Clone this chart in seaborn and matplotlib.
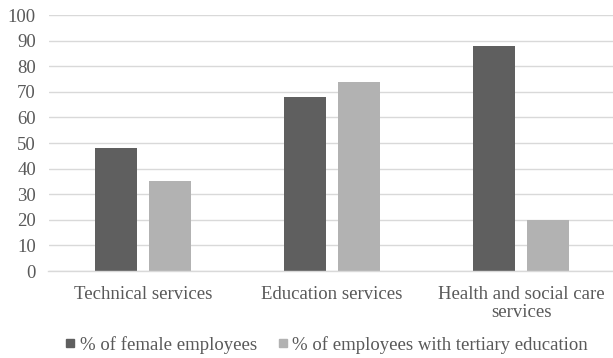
import matplotlib
matplotlib.use("Agg")
import matplotlib.pyplot as plt
import seaborn as sns
import pandas as pd
from matplotlib.lines import Line2D

categories = ["Technical services", "Education services", "Health and social care\nservices"]
series_names = ["% of female employees", "% of employees with tertiary education"]
female = [48, 68, 88]
tertiary = [35, 74, 20]
yticks = [0, 10, 20, 30, 40, 50, 60, 70, 80, 90, 100]

colors = ["#5f5f5f", "#b2b2b2"]

df = pd.DataFrame({
    "category": categories * 2,
    "series": [series_names[0]] * 3 + [series_names[1]] * 3,
    "value": female + tertiary,
})

sns.set_theme(style="white")
plt.rcParams['font.family'] = ['Liberation Serif', 'DejaVu Serif']

FS = 13.5
fig = plt.figure(figsize=(6.13, 3.58), dpi=100)
ax = fig.add_axes([48.5 / 613, 1 - 271 / 358, 567 / 613, (271 - 15) / 358])

sns.barplot(data=df, x="category", y="value", hue="series", palette=colors,
            width=0.572, gap=0.223, ax=ax, legend=False, saturation=1,
            edgecolor="none")

ax.set_xlim(-0.5, 2.5)
ax.set_ylim(0, 100)
ax.set_yticks(yticks)
ax.set_yticklabels([str(v) for v in yticks])
ax.yaxis.grid(True, color="#d9d9d9", linewidth=1)
ax.set_axisbelow(True)
for s in ["top", "right", "left"]:
    ax.spines[s].set_visible(False)
ax.spines["bottom"].set_color("#d9d9d9")
ax.spines["bottom"].set_linewidth(1)
ax.tick_params(axis="both", length=0, labelsize=FS, labelcolor="#595959")
ax.tick_params(axis="y", pad=9)
ax.tick_params(axis="x", pad=11)
for lbl in ax.get_xticklabels():
    lbl.set_linespacing(1.05)
ax.set_xlabel("")
ax.set_ylabel("")

handles = [Line2D([0], [0], marker="s", linestyle="none", markersize=5.5,
                  markerfacecolor=c, markeredgecolor=c) for c in colors]
fig.legend(handles, series_names, loc="center", bbox_to_anchor=(326 / 613, 1 - 345 / 358),
           ncol=2, frameon=False, fontsize=FS, labelcolor="#595959",
           handletextpad=0.15, columnspacing=1.05, handlelength=0.7,
           borderpad=0, borderaxespad=0)

fig.savefig("out.png", dpi=100)
